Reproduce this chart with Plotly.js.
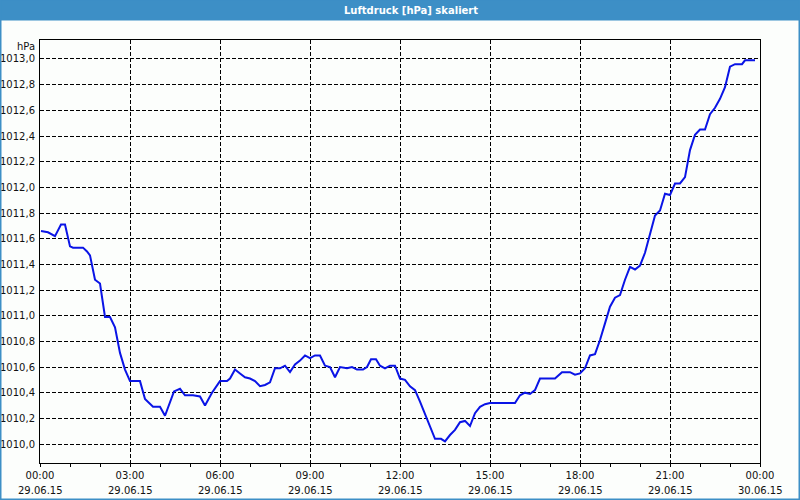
<!DOCTYPE html>
<html>
<head>
<meta charset="utf-8">
<script src="https://cdn.plot.ly/plotly-3.0.1.min.js"></script>
<style>
html,body{margin:0;padding:0;background:#fcfefc;}
#chart{width:800px;height:500px;}
</style>
</head>
<body>
<div id="chart"></div>
<script>
// ---- data ----
const day = "2015-06-29";
const times = ["00:02","00:16","00:30","00:42","00:50","01:00","01:06","01:26","01:34","01:40",
"01:50","02:00","02:10","02:20","02:30","02:40","02:50","03:00","03:20","03:30",
"03:46","04:00","04:10","04:28","04:40","04:50","05:06","05:20","05:30","05:44",
"06:00","06:14","06:20","06:30","06:40","06:50","07:00","07:10","07:20","07:30",
"07:40","07:50","08:00","08:10","08:20","08:30","08:40","08:50","09:00","09:10",
"09:20","09:30","09:40","09:50","10:00","10:14","10:24","10:34","10:46","10:54",
"11:02","11:12","11:20","11:30","11:40","11:50","12:00","12:10","12:20","12:30",
"12:40","12:54","13:10","13:22","13:30","13:40","13:50","14:00","14:10","14:20",
"14:30","14:40","14:50","15:00","15:50","16:00","16:10","16:20","16:30","16:40",
"16:54","17:10","17:24","17:40","17:50","18:00","18:10","18:20","18:30","18:40",
"18:50","19:00","19:10","19:20","19:30","19:40","19:50","20:00","20:10","20:20",
"20:30","20:40","20:50","21:00","21:10","21:20","21:30","21:40","21:50","22:00",
"22:10","22:20","22:30","22:40","22:50","23:00","23:10","23:24","23:30","23:50"];
const pressure = [1011.66,1011.65,1011.62,1011.71,1011.71,1011.54,1011.53,1011.53,1011.50,1011.47,
1011.28,1011.25,1010.99,1010.99,1010.91,1010.71,1010.58,1010.49,1010.49,1010.35,
1010.29,1010.29,1010.22,1010.41,1010.43,1010.38,1010.38,1010.37,1010.30,1010.40,
1010.49,1010.49,1010.51,1010.58,1010.55,1010.52,1010.51,1010.49,1010.45,1010.46,
1010.48,1010.59,1010.59,1010.61,1010.56,1010.62,1010.65,1010.69,1010.67,1010.69,
1010.69,1010.61,1010.60,1010.52,1010.60,1010.59,1010.60,1010.58,1010.58,1010.60,
1010.66,1010.66,1010.61,1010.59,1010.61,1010.61,1010.51,1010.50,1010.45,1010.42,
1010.33,1010.20,1010.04,1010.04,1010.02,1010.07,1010.11,1010.17,1010.18,1010.14,
1010.24,1010.29,1010.31,1010.32,1010.32,1010.38,1010.40,1010.39,1010.42,1010.51,
1010.51,1010.51,1010.56,1010.56,1010.54,1010.55,1010.59,1010.69,1010.70,1010.81,
1010.94,1011.07,1011.14,1011.16,1011.28,1011.38,1011.36,1011.39,1011.49,1011.64,
1011.78,1011.82,1011.95,1011.94,1012.03,1012.03,1012.08,1012.29,1012.41,1012.45,
1012.45,1012.57,1012.62,1012.69,1012.78,1012.94,1012.96,1012.96,1012.99,1012.99];

const tickTimes = ["2015-06-29 00:00","2015-06-29 03:00","2015-06-29 06:00","2015-06-29 09:00",
"2015-06-29 12:00","2015-06-29 15:00","2015-06-29 18:00","2015-06-29 21:00","2015-06-30 00:00"];
const tickTimeLabels = ["00:00","03:00","06:00","09:00","12:00","15:00","18:00","21:00","00:00"];
const tickDateLabels = ["29.06.15","29.06.15","29.06.15","29.06.15","29.06.15","29.06.15","29.06.15","29.06.15","30.06.15"];
const yTicks = [1010.0,1010.2,1010.4,1010.6,1010.8,1011.0,1011.2,1011.4,1011.6,1011.8,1012.0,1012.2,1012.4,1012.6,1012.8,1013.0];

const chartTitle = "Luftdruck [hPa] skaliert";
const unitLabel = "hPa";

// ---- chart ----
const font = "DejaVu Sans, Verdana, sans-serif";
const txtColor = "#111111";
const x = times.map(t => day + " " + t);

const trace = {
  x: x, y: pressure, type: "scatter", mode: "lines",
  line: {color: "#0a14e6", width: 2}, hoverinfo: "skip"
};

// paper coordinate helpers for the figure frame (plot area 40..760 x 40..463)
const L = 40, R = 40, T = 40, B = 37, W = 800, H = 500;
const pw = W - L - R, ph = H - T - B;
const px = v => (v - L) / pw;
const py = v => (H - B - v) / ph;

const annotations = tickTimes.map((t, i) => ({
  x: t, xref: "x", y: 0, yref: "paper", yanchor: "top", xanchor: "center",
  yshift: -20, text: tickDateLabels[i], showarrow: false,
  font: {family: font, size: 10, color: txtColor}
}));
annotations.push({
  x: 0, xref: "paper", y: 1, yref: "paper", xanchor: "right", yanchor: "top",
  xshift: -3, yshift: 1, text: unitLabel, showarrow: false,
  font: {family: font, size: 10, color: txtColor}
});

const layout = {
  width: W, height: H,
  margin: {l: L, r: R, t: T, b: B, pad: 0},
  paper_bgcolor: "#fcfefc", plot_bgcolor: "#fcfefc",
  separators: ", ",
  showlegend: false,
  title: {
    text: "<b>" + chartTitle + "</b>",
    font: {family: font, size: 10, color: "#ffffff"},
    x: 411 / W, xanchor: "center", xref: "container",
    y: 1 - 10.5 / H, yanchor: "middle", yref: "container"
  },
  xaxis: {
    type: "date",
    range: ["2015-06-29 00:00", "2015-06-30 00:00"],
    tickmode: "array", tickvals: tickTimes, ticktext: tickTimeLabels,
    ticks: "outside", ticklen: 3, tickcolor: "#000", tickwidth: 1,
    minor: {dtick: 3600000, tick0: "2015-06-29 00:00", ticks: "outside", ticklen: 3, tickcolor: "#000", showgrid: false},
    showgrid: true, gridcolor: "#000", gridwidth: 1, griddash: "4px,2px",
    showline: true, linecolor: "#000", linewidth: 1, mirror: true,
    zeroline: false, fixedrange: true,
    tickfont: {family: font, size: 10, color: txtColor}
  },
  yaxis: {
    range: [1009.852, 1013.148],
    tickmode: "array", tickvals: yTicks, tickformat: ".1f",
    ticks: "", ticklabelstandoff: 2,
    showgrid: true, gridcolor: "#000", gridwidth: 1, griddash: "4px,2px",
    showline: true, linecolor: "#000", linewidth: 1, mirror: true,
    zeroline: false, fixedrange: true,
    tickfont: {family: font, size: 10, color: txtColor}
  },
  shapes: [
    {type: "rect", xref: "paper", yref: "paper", x0: px(0), x1: px(800), y0: py(0), y1: py(20.5),
     fillcolor: "#3d8fc6", line: {width: 0}, layer: "below"},
    {type: "rect", xref: "paper", yref: "paper", x0: px(0.75), x1: px(799.25), y0: py(0), y1: py(499.25),
     fillcolor: "rgba(0,0,0,0)", line: {color: "#3d8fc6", width: 1.5}, layer: "above"}
  ],
  annotations: annotations
};

Plotly.newPlot("chart", [trace], layout, {displayModeBar: false, staticPlot: true});
</script>
</body>
</html>
